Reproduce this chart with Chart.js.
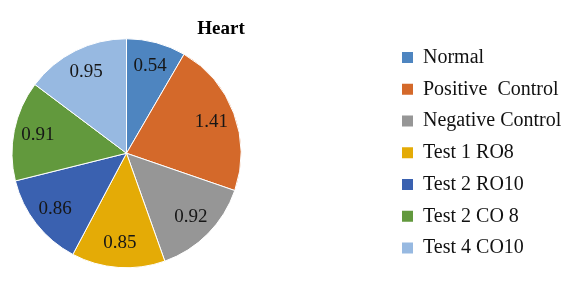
<!DOCTYPE html>
<html>
<head>
<meta charset="utf-8">
<title>Heart</title>
<script src="https://cdn.jsdelivr.net/npm/chart.js@4.4.0/dist/chart.umd.min.js"></script>
<style>
    html, body { margin: 0; padding: 0; background: #fff; }
</style>
</head>
<body>
<canvas id="heartChart" width="575" height="284"></canvas>
<script>
// ============================================================================
// HEART PIE CHART
// ============================================================================

const chartTitle = 'Heart';
const groups = ['Normal', 'Positive  Control', 'Negative Control', 'Test 1 RO8', 'Test 2 RO10', 'Test 2 CO 8', 'Test 4 CO10'];
const heartValues = [0.54, 1.41, 0.92, 0.85, 0.86, 0.91, 0.95];
const sliceColors = ['#4e85c0', '#d4692a', '#969696', '#e4ab06', '#3a61b0', '#62993d', '#97b9e1'];

const FONT = '"Liberation Serif", "Times New Roman", serif';
const legendFontSize = 20;
const legendGap = 11.75;       // vertical gap between legend rows
const legendBoxX = 402;        // left edge of the legend squares
const pieCenterX = 126.5;
const titleCenterX = 221;

// measure the widest legend label so the legend lands where it sits in the picture
const mctx = document.createElement('canvas').getContext('2d');
mctx.font = `${legendFontSize}px ${FONT}`;
const widest = Math.max(...groups.map(g => mctx.measureText(g).width));
const legendLeft = legendBoxX - legendGap;
const legendWidth = legendGap + 11 + legendFontSize / 2 + widest + 10;
const padRight = Math.max(575 - legendLeft - legendWidth, 0);

// value labels inside the slices
const sliceLabels = {
    id: 'sliceLabels',
    afterDatasetsDraw(chart) {
        const { ctx } = chart;
        const meta = chart.getDatasetMeta(0);
        ctx.save();
        ctx.font = `19px ${FONT}`;
        ctx.fillStyle = '#161616';
        ctx.textAlign = 'center';
        ctx.textBaseline = 'middle';
        meta.data.forEach((arc, i) => {
            const { x, y, startAngle, endAngle, outerRadius } =
                arc.getProps(['x', 'y', 'startAngle', 'endAngle', 'outerRadius'], true);
            const mid = (startAngle + endAngle) / 2;
            const r = outerRadius * 0.79;
            ctx.fillText(heartValues[i].toFixed(2), x + Math.cos(mid) * r, y + Math.sin(mid) * r);
        });
        ctx.restore();
    }
};

// pie sits well left of the legend, title sits between the two
const pieLayout = {
    id: 'pieLayout',
    afterLayout(chart) {
        const area = chart.chartArea;
        area.left = 2 * pieCenterX - area.right;
        area.width = area.right - area.left;

        const t = chart.titleBlock;
        const half = (t.right - t.left) / 2;
        t.left = titleCenterX - half;
        t.right = titleCenterX + half;
    }
};

const baseLabels = Chart.overrides.pie.plugins.legend.labels.generateLabels;

const ctx = document.getElementById('heartChart').getContext('2d');
const chart = new Chart(ctx, {
    type: 'pie',
    data: {
        labels: groups,
        datasets: [{
            data: heartValues,
            backgroundColor: sliceColors,
            borderColor: '#ffffff',
            borderWidth: 1,
            radius: 114.5
        }]
    },
    options: {
        responsive: false,
        animation: false,
        layout: {
            padding: { left: 0, right: padRight, top: 0, bottom: 14.25 }
        },
        plugins: {
            title: {
                display: true,
                text: chartTitle,
                color: '#000',
                font: { family: FONT, size: 19, weight: 'bold', lineHeight: 1 },
                padding: { top: 20, bottom: -2.25 }
            },
            legend: {
                position: 'right',
                align: 'end',
                labels: {
                    boxWidth: 11,
                    boxHeight: 11,
                    padding: legendGap,
                    color: '#111',
                    font: { family: FONT, size: legendFontSize },
                    generateLabels: (c) => baseLabels(c).map(l => ({ ...l, lineWidth: 0 }))
                }
            },
            tooltip: { enabled: false }
        }
    },
    plugins: [sliceLabels, pieLayout]
});
</script>
</body>
</html>
